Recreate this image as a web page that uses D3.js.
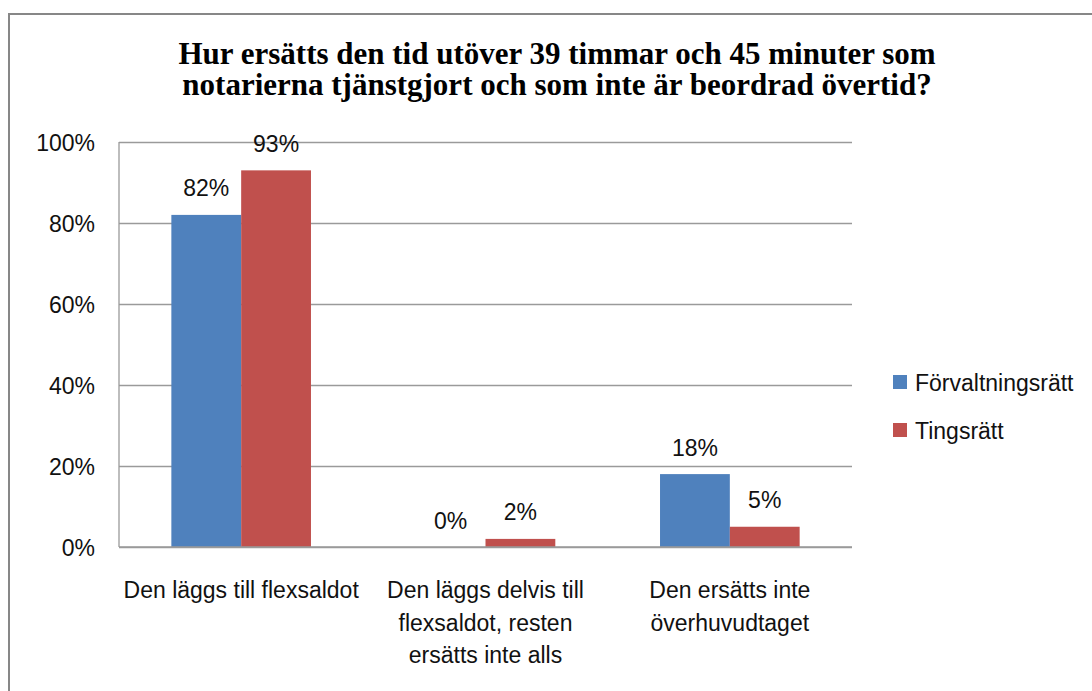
<!DOCTYPE html>
<html>
<head>
<meta charset="utf-8">
<script src="https://cdn.jsdelivr.net/npm/d3@7"></script>
<style>
  html, body { margin: 0; padding: 0; background: #fff; }
  svg { display: block; }
</style>
</head>
<body>
<svg id="chart" width="1092" height="691"></svg>
<script>
const titleLines = [
  "Hur ersätts den tid utöver 39 timmar och 45 minuter som",
  "notarierna tjänstgjort och som inte är beordrad övertid?"
];
const categories = [
  "Den läggs till flexsaldot",
  "Den läggs delvis till flexsaldot, resten ersätts inte alls",
  "Den ersätts inte överhuvudtaget"
];
const categoryLines = [
  ["Den läggs till flexsaldot"],
  ["Den läggs delvis till", "flexsaldot, resten", "ersätts inte alls"],
  ["Den ersätts inte", "överhuvudtaget"]
];
const seriesNames = ["Förvaltningsrätt", "Tingsrätt"];
const forvaltningsratt = [0.82, 0, 0.18];
const tingsratt = [0.93, 0.02, 0.05];
const yTicks = [0, 0.2, 0.4, 0.6, 0.8, 1.0];
const colors = ["#4F81BD", "#C0504D"];

const seriesValues = [forvaltningsratt, tingsratt];
const svg = d3.select("#chart");
const sansFont = "'Liberation Sans', Arial, sans-serif";
const fs = 23;

// outer chart border
svg.append("rect")
  .attr("x", 9).attr("y", 14)
  .attr("width", 1200).attr("height", 800)
  .attr("fill", "#fff")
  .attr("stroke", "#878787").attr("stroke-width", 2);

// title
const title = svg.append("text")
  .attr("x", 557).attr("text-anchor", "middle")
  .attr("font-family", "'Liberation Serif', 'Times New Roman', serif")
  .attr("font-weight", "bold").attr("font-size", 31)
  .attr("fill", "#000");
title.selectAll("tspan").data(titleLines).enter().append("tspan")
  .attr("x", 557)
  .attr("y", (d, i) => 63.5 + i * 31)
  .text(d => d);

const plot = { left: 119, right: 852, top: 142, bottom: 547 };

const x0 = d3.scaleBand().domain(categories).range([plot.left, plot.right]).padding(0);
const cw = x0.bandwidth();
const x1 = d3.scaleBand().domain(seriesNames)
  .range([cw * 0.75 / 3.5, cw * 2.75 / 3.5]).padding(0);
const y = d3.scaleLinear().domain([0, 1]).range([plot.bottom, plot.top]);

// gridlines
const yAxis = d3.axisLeft(y).tickValues(yTicks)
  .tickSize(-(plot.right - plot.left))
  .tickFormat(d3.format(".0%"))
  .tickPadding(24);
const gy = svg.append("g").attr("transform", `translate(${plot.left},0)`).call(yAxis);
gy.select(".domain").remove();
gy.selectAll(".tick line").attr("stroke", "#9a9a9a").attr("stroke-width", 1.3);
gy.selectAll(".tick text")
  .attr("font-family", sansFont).attr("font-size", fs)
  .attr("fill", "#111").attr("dy", "0.36em");

// left axis line
svg.append("line")
  .attr("x1", plot.left).attr("x2", plot.left)
  .attr("y1", y(1)).attr("y2", y(0))
  .attr("stroke", "#9a9a9a").attr("stroke-width", 1.3);

// bars
const groups = svg.append("g").selectAll("g")
  .data(categories).enter().append("g")
  .attr("transform", d => `translate(${x0(d)},0)`);

groups.selectAll("rect")
  .data((c, ci) => seriesNames.map((s, si) => ({ s, si, v: seriesValues[si][ci] })))
  .enter().append("rect")
  .attr("x", d => x1(d.s))
  .attr("y", d => y(d.v))
  .attr("width", x1.bandwidth())
  .attr("height", d => y(0) - y(d.v))
  .attr("fill", d => colors[d.si]);

// data labels
groups.selectAll("text.lbl")
  .data((c, ci) => seriesNames.map((s, si) => ({ s, si, v: seriesValues[si][ci] })))
  .enter().append("text")
  .attr("class", "lbl")
  .attr("x", d => x1(d.s) + x1.bandwidth() / 2)
  .attr("y", d => y(d.v) - 18.5)
  .attr("text-anchor", "middle")
  .attr("font-family", sansFont).attr("font-size", fs)
  .attr("fill", "#111")
  .text(d => d3.format(".0%")(d.v));

// bottom axis line
svg.append("line")
  .attr("x1", plot.left).attr("x2", plot.right)
  .attr("y1", y(0)).attr("y2", y(0))
  .attr("stroke", "#9a9a9a").attr("stroke-width", 1.3);

// category labels
const catText = svg.append("g").selectAll("text")
  .data(categories).enter().append("text")
  .attr("text-anchor", "middle")
  .attr("font-family", sansFont).attr("font-size", fs)
  .attr("fill", "#111");
catText.selectAll("tspan")
  .data((c, i) => categoryLines[i].map(l => ({ l, c })))
  .enter().append("tspan")
  .attr("x", d => x0(d.c) + cw / 2)
  .attr("y", (d, i) => 598 + i * 32.5)
  .text(d => d.l);

// legend
const legend = svg.append("g").selectAll("g")
  .data(seriesNames).enter().append("g")
  .attr("transform", (d, i) => `translate(893,${375 + i * 48})`);
legend.append("rect")
  .attr("width", 14).attr("height", 14)
  .attr("fill", (d, i) => colors[i]);
legend.append("text")
  .attr("x", 22).attr("y", 15.5)
  .attr("font-family", sansFont).attr("font-size", fs)
  .attr("fill", "#111")
  .text(d => d);
</script>
</body>
</html>
